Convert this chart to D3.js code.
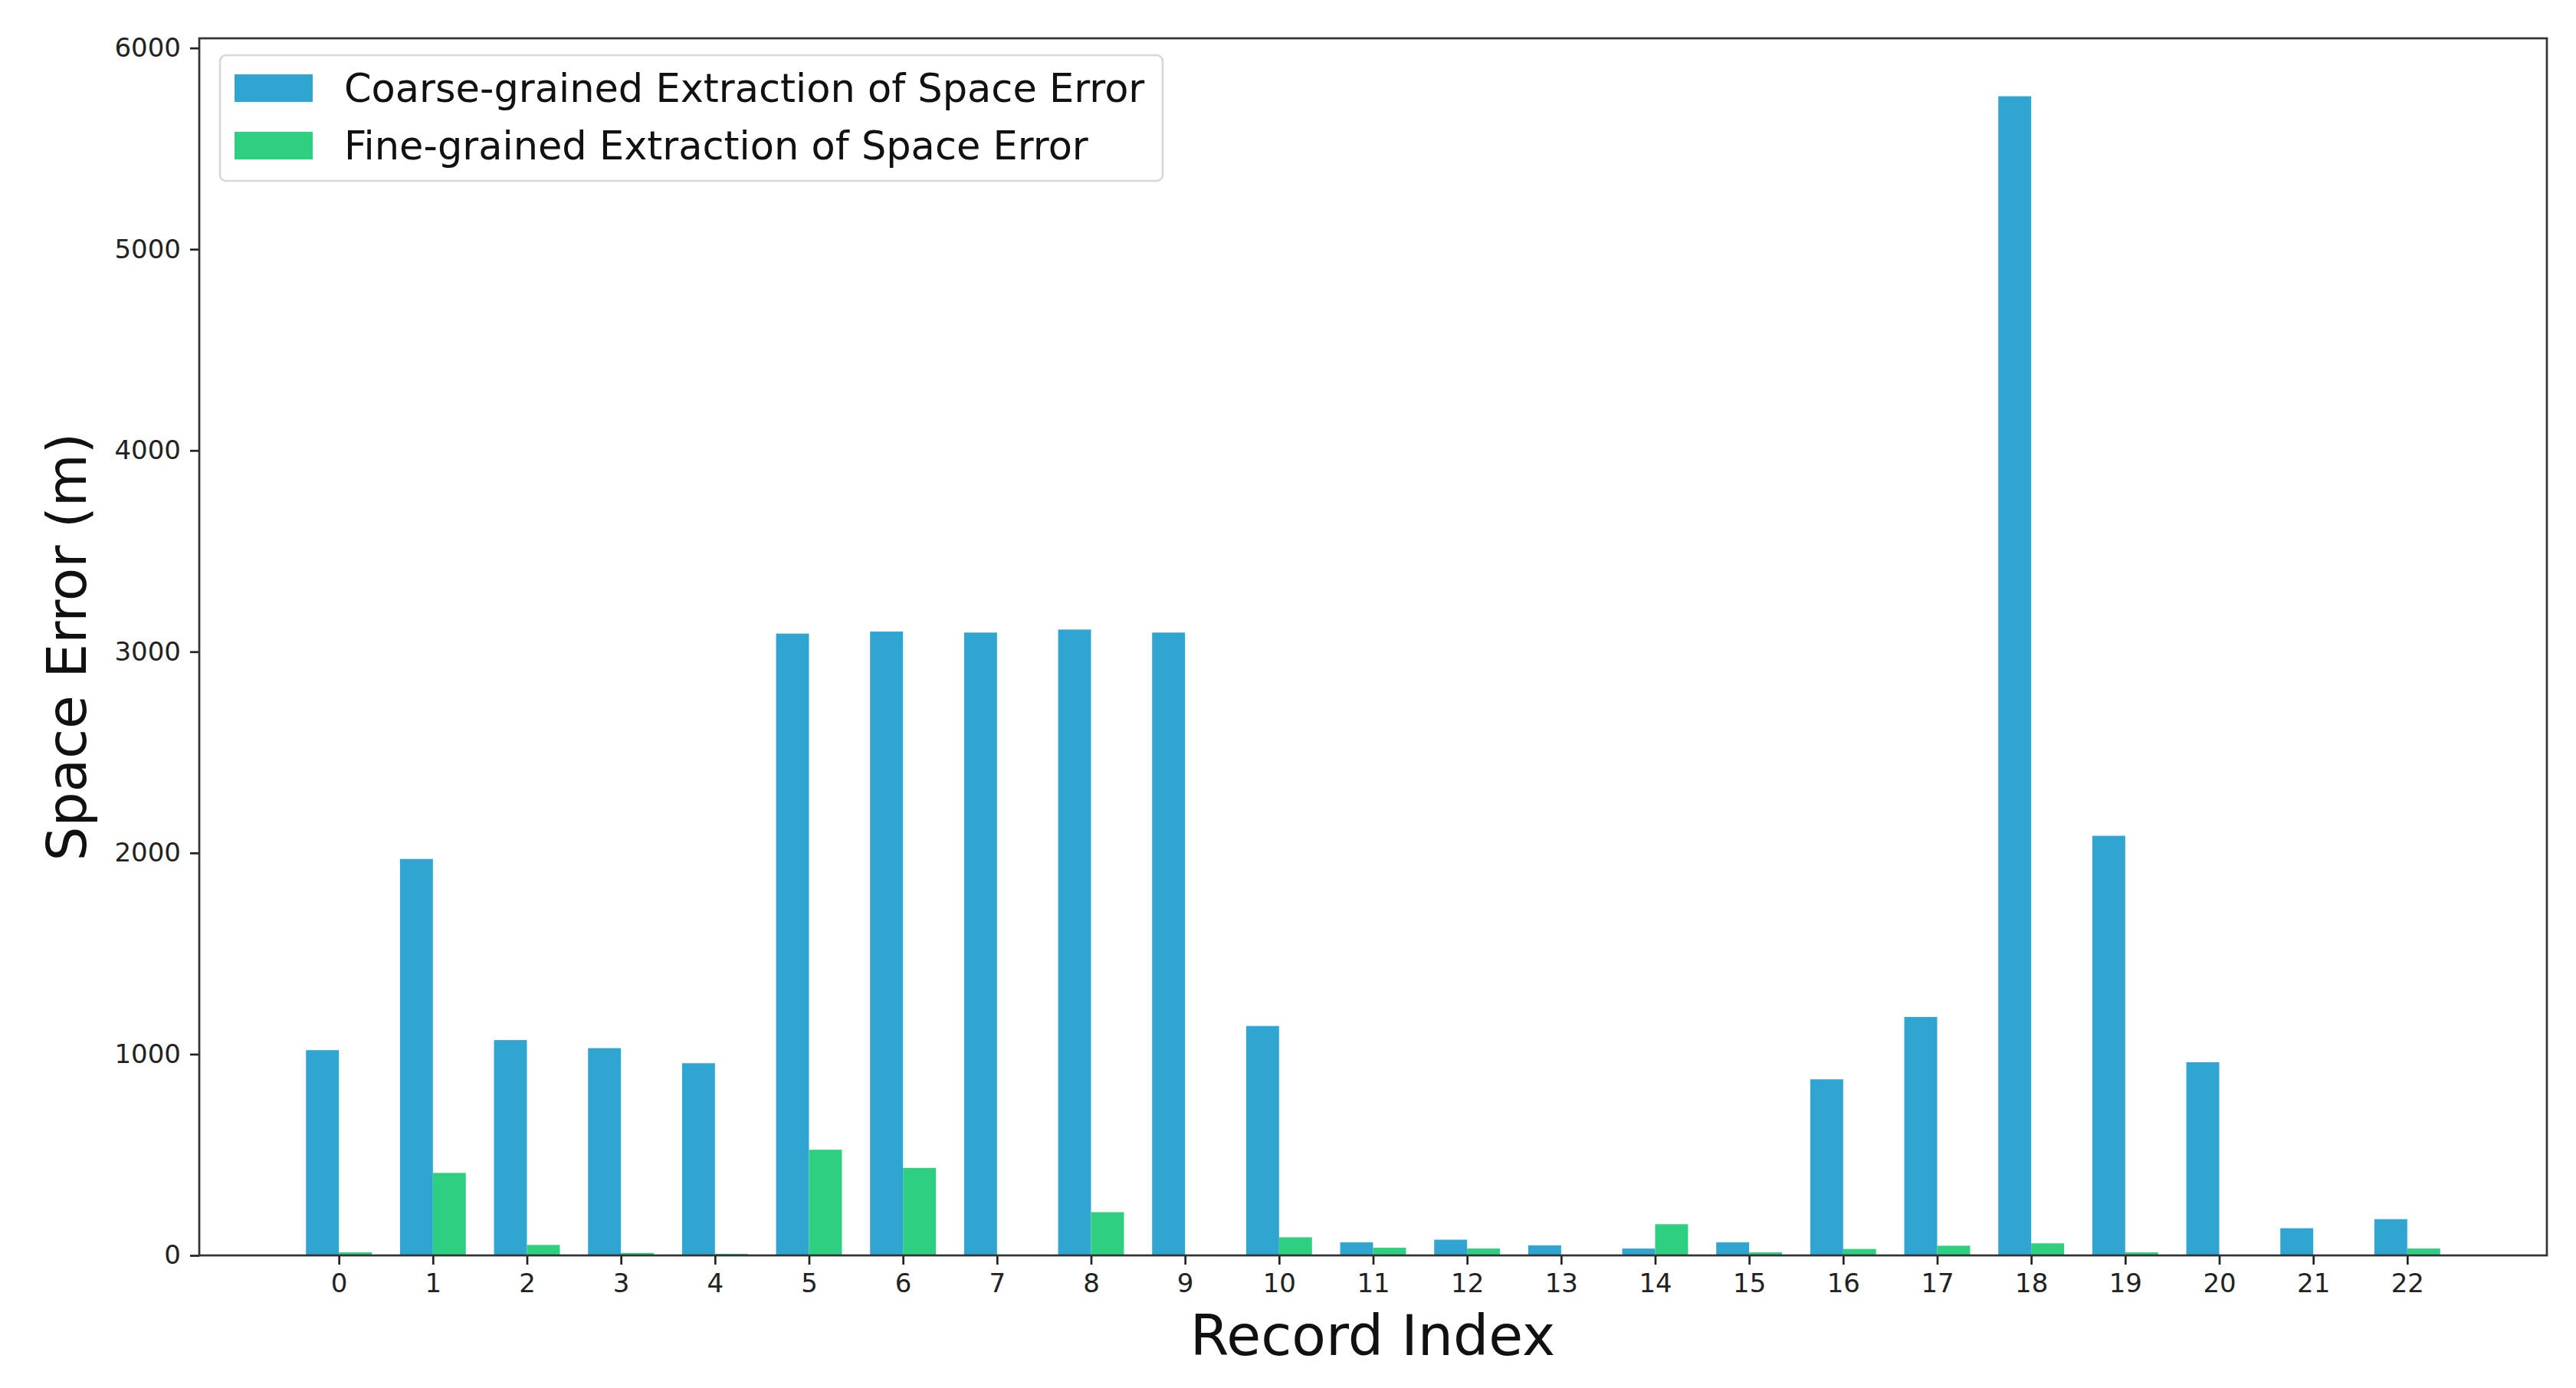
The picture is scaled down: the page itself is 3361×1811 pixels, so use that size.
<!DOCTYPE html>
<html>
<head>
<meta charset="utf-8">
<script src="https://cdn.jsdelivr.net/npm/d3@7"></script>
<style>
  html, body { margin: 0; padding: 0; background: #fff; }
  svg { display: block; font-family: "DejaVu Sans", sans-serif; }
</style>
</head>
<body>
<svg id="chart" width="3361" height="1811"></svg>
<script>
const categories = d3.range(0, 23).map(String);
const coarseValues = [1020, 1970, 1070, 1030, 955, 3090, 3100, 3095, 3110, 3095, 1140, 65, 78, 50, 34, 65, 875, 1185, 5760, 2085, 960, 135, 180];
const fineValues   = [15, 410, 52, 12, 8, 525, 435, 4, 215, 4, 90, 38, 34, 0, 155, 15, 32, 48, 60, 15, 0, 0, 34];
const yTickValues = [0, 1000, 2000, 3000, 4000, 5000, 6000];
const seriesNames = ["Coarse-grained Extraction of Space Error", "Fine-grained Extraction of Space Error"];
const seriesColors = ["#30a5d1", "#2ecf80"];

const W = 3361, H = 1811;
const m = { left: 260, right: 3323, top: 50, bottom: 1638 };
const barW = 0.35;

const svg = d3.select("#chart");

const x = d3.scaleLinear().domain([-1.485, 23.485]).range([m.left, m.right]);
const y = d3.scaleLinear().domain([0, 6048]).range([m.bottom, m.top]);

// bars
const gBars = svg.append("g");
gBars.selectAll("rect.coarse").data(coarseValues).join("rect")
  .attr("class", "coarse")
  .attr("x", (d, i) => x(i - barW))
  .attr("width", (d, i) => x(i) - x(i - barW))
  .attr("y", d => y(d))
  .attr("height", d => y(0) - y(d))
  .attr("fill", seriesColors[0]);
gBars.selectAll("rect.fine").data(fineValues).join("rect")
  .attr("class", "fine")
  .attr("x", (d, i) => x(i))
  .attr("width", (d, i) => x(i + barW) - x(i))
  .attr("y", d => y(d))
  .attr("height", d => y(0) - y(d))
  .attr("fill", seriesColors[1]);

// axes
const tickFont = 34;
const xAxis = d3.axisBottom(x)
  .tickValues(categories.map(Number))
  .tickFormat((d, i) => categories[i])
  .tickSize(12).tickPadding(12);
const gx = svg.append("g").attr("transform", `translate(0,${m.bottom})`).call(xAxis);
gx.select(".domain").remove();
gx.selectAll(".tick line").attr("stroke", "#222").attr("stroke-width", 2.7);
gx.selectAll(".tick text").attr("font-size", tickFont).attr("fill", "#222")
  .attr("font-family", "DejaVu Sans");

const yAxis = d3.axisLeft(y)
  .tickValues(yTickValues)
  .tickFormat(d3.format("d"))
  .tickSize(12).tickPadding(12);
const gy = svg.append("g").attr("transform", `translate(${m.left},0)`).call(yAxis);
gy.select(".domain").remove();
gy.selectAll(".tick line").attr("stroke", "#222").attr("stroke-width", 2.7);
gy.selectAll(".tick text").attr("font-size", tickFont).attr("fill", "#222")
  .attr("font-family", "DejaVu Sans");

// frame
svg.append("rect")
  .attr("x", m.left).attr("y", m.top)
  .attr("width", m.right - m.left).attr("height", m.bottom - m.top)
  .attr("fill", "none").attr("stroke", "#333").attr("stroke-width", 2.7);

// axis labels
svg.append("text")
  .attr("x", 1791).attr("y", 1768)
  .attr("text-anchor", "middle").attr("font-size", 73).attr("fill", "#111")
  .text("Record Index");
svg.append("text")
  .attr("transform", `translate(112,${(m.top + m.bottom) / 2}) rotate(-90)`)
  .attr("text-anchor", "middle").attr("font-size", 71).attr("fill", "#111")
  .text("Space Error (m)");

// legend
const lg = svg.append("g");
lg.append("rect")
  .attr("x", 287).attr("y", 72).attr("width", 1230).attr("height", 164)
  .attr("rx", 8).attr("fill", "#fff").attr("fill-opacity", 0.8)
  .attr("stroke", "#d8d8d8").attr("stroke-width", 2.7);
seriesNames.forEach((name, i) => {
  const cy = 115 + i * 75;
  lg.append("rect")
    .attr("x", 306).attr("y", cy - 18).attr("width", 102).attr("height", 36)
    .attr("fill", seriesColors[i]);
  lg.append("text")
    .attr("x", 449).attr("y", cy + 18)
    .attr("font-size", 51).attr("fill", "#111")
    .text(name);
});
</script>
</body>
</html>
